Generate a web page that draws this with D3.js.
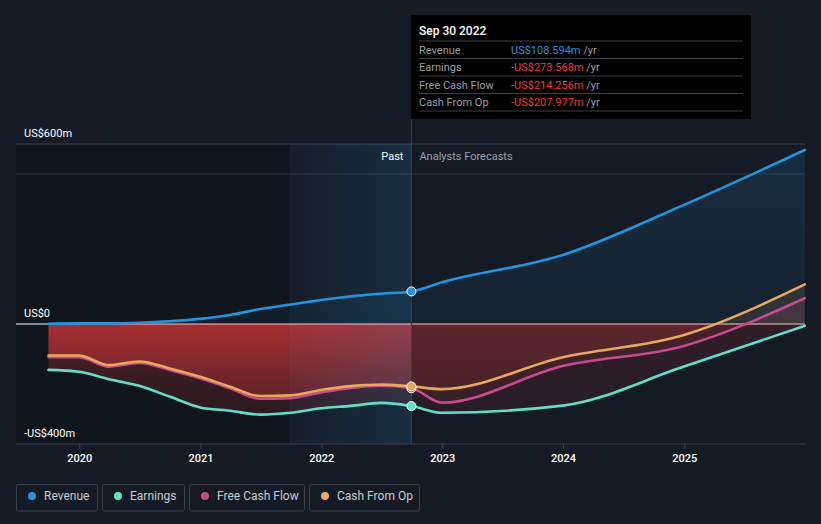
<!DOCTYPE html>
<html>
<head>
<meta charset="utf-8">
<script src="https://cdn.jsdelivr.net/npm/d3@7"></script>
<style>
  html, body { margin: 0; padding: 0; background: #151b24; }
  svg { display: block; font-family: Roboto, "Noto Sans", sans-serif; }
</style>
</head>
<body>
<svg id="chart" width="821" height="524"></svg>
<script>
// ---------- data ----------
const pastDates = ["2019-09-30","2019-12-31","2020-03-31","2020-06-30","2020-09-30","2020-12-31",
  "2021-03-31","2021-06-30","2021-09-30","2021-12-31","2022-03-31","2022-06-30","2022-09-30"];
const forecastDates = ["2022-09-30","2022-12-31","2023-12-31","2024-12-31","2025-12-31"];

const revenuePast   = [1, 2, 2, 4, 9, 17, 30, 50, 65, 80, 92, 101, 108.594];
const earningsPast  = [-153, -159, -184, -206, -242, -278, -289, -302, -296, -281, -273, -263, -273.568];
const fcfPast       = [-111, -111, -142, -130, -153, -181, -214, -249, -247, -228, -213, -206, -214.256];
const cfoPast       = [-105, -105, -137, -125, -148, -176, -209, -240, -238, -220, -207, -202, -207.977];

const revenueFc  = [108.594, 139, 230, 397, 580];
const earningsFc = [-273.568, -296, -272, -142, -6];
const fcfFc      = [-214.256, -262, -140, -73, 86];
const cfoFc      = [-207.977, -217, -111, -37, 132];

const seriesNames  = ["Revenue", "Earnings", "Free Cash Flow", "Cash From Op"];
const seriesColors = ["#2394df", "#5fe0c9", "#c74b8d", "#e8a95a"];
const tooltipDate   = "Sep 30 2022";
const tooltipValues = ["US$108.594m", "-US$273.568m", "-US$214.256m", "-US$207.977m"];
const yTicks      = [600, 0, -400];
const yTickLabels = ["US$600m", "US$0", "-US$400m"];
const xTickYears  = [2020, 2021, 2022, 2023, 2024, 2025];
const todayDate   = "2022-09-30";
const bandStart   = "2021-09-30";

// ---------- setup ----------
const parse = d3.timeParse("%Y-%m-%d");
const svg = d3.select("#chart");
const W = 821, H = 524;
const pL = 16, pR = 805, pT = 144, pB = 444;

const x = d3.scaleTime()
  .domain([parse("2019-09-30"), parse("2025-12-31")])
  .range([48.5, 804.8]);
const y = d3.scaleLinear().domain([-400, 600]).range([pB, pT]);

function mk(dates, vals) { return dates.map((d, i) => ({ date: parse(d), v: vals[i] })); }
const series = [
  { name: seriesNames[0], color: seriesColors[0], data: mk(pastDates, revenuePast).concat(mk(forecastDates, revenueFc).slice(1)) },
  { name: seriesNames[1], color: seriesColors[1], data: mk(pastDates, earningsPast).concat(mk(forecastDates, earningsFc).slice(1)) },
  { name: seriesNames[2], color: seriesColors[2], data: mk(pastDates, fcfPast).concat(mk(forecastDates, fcfFc).slice(1)) },
  { name: seriesNames[3], color: seriesColors[3], data: mk(pastDates, cfoPast).concat(mk(forecastDates, cfoFc).slice(1)) },
];

const xToday = x(parse(todayDate));
const xBand = x(parse(bandStart));
const y0 = y(0);

const defs = svg.append("defs");
defs.append("clipPath").attr("id", "clipPastNeg").append("rect")
  .attr("x", 0).attr("y", y0).attr("width", xToday).attr("height", H);
defs.append("clipPath").attr("id", "clipFutNeg").append("rect")
  .attr("x", xToday).attr("y", y0).attr("width", W).attr("height", H);
defs.append("clipPath").attr("id", "clipPos").append("rect")
  .attr("x", 0).attr("y", 0).attr("width", W).attr("height", y0);

function vGrad(id, stops) {
  const g = defs.append("linearGradient").attr("id", id)
    .attr("gradientUnits", "userSpaceOnUse")
    .attr("x1", 0).attr("x2", 0).attr("y1", y(0)).attr("y2", y(-400));
  stops.forEach(s => g.append("stop").attr("offset", s[0]).attr("stop-color", s[1]).attr("stop-opacity", s[2]));
}
vGrad("redPast", [[0, "#e5393b", 0.33], [0.45, "#e5393b", 0.18], [1, "#e5393b", 0.08]]);
vGrad("redFut", [[0, "#e5393b", 0.13], [1, "#e5393b", 0.06]]);
const revG = defs.append("linearGradient").attr("id", "revGrad")
  .attr("gradientUnits", "userSpaceOnUse").attr("x1", 0).attr("x2", 0).attr("y1", y(600)).attr("y2", y(0));
revG.append("stop").attr("offset", 0).attr("stop-color", "#2394df").attr("stop-opacity", 0.16);
revG.append("stop").attr("offset", 1).attr("stop-color", "#2394df").attr("stop-opacity", 0.06);
const bandG = defs.append("linearGradient").attr("id", "bandGrad")
  .attr("x1", 0).attr("x2", 1).attr("y1", 0).attr("y2", 0);
bandG.append("stop").attr("offset", 0).attr("stop-color", "#2394df").attr("stop-opacity", 0.02);
bandG.append("stop").attr("offset", 1).attr("stop-color", "#2394df").attr("stop-opacity", 0.16);

// ---------- background ----------
svg.append("rect").attr("width", W).attr("height", H).attr("fill", "#151b24");
svg.append("rect").attr("x", pL).attr("y", pT).attr("width", xBand - pL).attr("height", pB - pT)
  .attr("fill", "#000").attr("fill-opacity", 0.18);

svg.append("line").attr("x1", pL).attr("x2", pR).attr("y1", pT).attr("y2", pT)
  .attr("stroke", "#3a414c").attr("stroke-width", 1);
svg.append("line").attr("x1", pL).attr("x2", pR).attr("y1", 174).attr("y2", 174)
  .attr("stroke", "#2e3540").attr("stroke-width", 1);

// ---------- areas ----------
const area = d3.area().x(d => x(d.date)).y0(y0).y1(d => y(d.v)).curve(d3.curveMonotoneX);
const line = d3.line().x(d => x(d.date)).y(d => y(d.v)).curve(d3.curveMonotoneX);

svg.append("path").datum(series[0].data).attr("d", area).attr("fill", "url(#revGrad)");

[1, 2, 3].forEach(i => {
  const s = series[i];
  svg.append("path").datum(s.data).attr("d", area).attr("fill", "url(#redPast)").attr("clip-path", "url(#clipPastNeg)");
  svg.append("path").datum(s.data).attr("d", area).attr("fill", "url(#redFut)").attr("clip-path", "url(#clipFutNeg)");
  svg.append("path").datum(s.data).attr("d", area).attr("fill", s.color).attr("fill-opacity", 0.12).attr("clip-path", "url(#clipPos)");
});

svg.append("rect").attr("x", xBand).attr("y", pT).attr("width", xToday - xBand).attr("height", pB - pT)
  .attr("fill", "url(#bandGrad)");
svg.append("line").attr("x1", xBand).attr("x2", xBand).attr("y1", pT).attr("y2", pB)
  .attr("stroke", "#2394df").attr("stroke-opacity", 0.12);

svg.append("line").attr("x1", pL).attr("x2", x.range()[0]).attr("y1", y0).attr("y2", y0)
  .attr("stroke", "#ffffff").attr("stroke-width", 1.2);
svg.append("line").attr("x1", x.range()[0]).attr("x2", pR).attr("y1", y0).attr("y2", y0)
  .attr("stroke", "#f6c9c6").attr("stroke-width", 1.2);

svg.append("line").attr("x1", xToday).attr("x2", xToday).attr("y1", 119).attr("y2", pB)
  .attr("stroke", "#2d4257").attr("stroke-width", 1);

// ---------- lines ----------
[1, 2, 3, 0].forEach(i => {
  const s = series[i];
  svg.append("path").datum(s.data).attr("d", line)
    .attr("fill", "none").attr("stroke", s.color).attr("stroke-width", 2.6)
    .attr("stroke-linejoin", "round").attr("stroke-linecap", "round");
});

[2, 1, 3, 0].forEach(i => {
  const s = series[i];
  const pt = s.data.find(d => +d.date === +parse(todayDate));
  svg.append("circle").attr("cx", x(pt.date)).attr("cy", y(pt.v)).attr("r", 4.5)
    .attr("fill", s.color).attr("stroke", "#ffffff").attr("stroke-width", 1);
});

// ---------- axes ----------
svg.append("line").attr("x1", pL).attr("x2", pR).attr("y1", pB).attr("y2", pB)
  .attr("stroke", "#3a414c").attr("stroke-width", 1);
const xAxis = d3.axisBottom(x)
  .tickValues(xTickYears.map(yr => new Date(yr, 0, 1)))
  .tickFormat(d3.timeFormat("%Y"))
  .tickSize(5).tickPadding(5);
const gx = svg.append("g").attr("transform", `translate(0,${pB})`).call(xAxis);
gx.select(".domain").remove();
gx.selectAll(".tick line").attr("stroke", "#3a414c");
gx.selectAll(".tick text").attr("fill", "#ffffff").attr("font-size", 11).attr("font-weight", 500)
  .attr("font-family", "Roboto, sans-serif");

yTicks.forEach((t, i) => {
  svg.append("text").attr("x", 24).attr("y", y(t) - 7)
    .attr("fill", "#ffffff").attr("font-size", 11).attr("font-weight", 400)
    .text(yTickLabels[i]);
});

svg.append("text").attr("x", xToday - 8).attr("y", 160).attr("text-anchor", "end")
  .attr("fill", "#ffffff").attr("font-size", 11).text("Past");
svg.append("text").attr("x", xToday + 8).attr("y", 160)
  .attr("fill", "#9aa0a8").attr("font-size", 11).text("Analysts Forecasts");

// ---------- tooltip ----------
const tt = svg.append("g");
tt.append("rect").attr("x", 411).attr("y", 15).attr("width", 340).attr("height", 104).attr("fill", "#000000");
tt.append("text").attr("x", 419).attr("y", 35).attr("fill", "#ffffff").attr("font-size", 12).attr("font-weight", 500)
  .text(tooltipDate);
[41, 58.5, 76, 93.5, 111].forEach(sy => tt.append("line").attr("x1", 419).attr("x2", 743).attr("y1", sy).attr("y2", sy)
  .attr("stroke", "#3c3f44").attr("stroke-width", 1));
seriesNames.forEach((n, i) => {
  const by = 53.5 + i * 17.5;
  tt.append("text").attr("x", 419).attr("y", by).attr("fill", "#9a9da3").attr("font-size", 11).text(n);
  const t = tt.append("text").attr("x", 511).attr("y", by).attr("font-size", 11);
  t.append("tspan").attr("fill", i === 0 ? "#2394df" : "#f03a3a").text(tooltipValues[i]);
  t.append("tspan").attr("fill", "#9a9da3").text(" /yr");
});

// ---------- legend ----------
const legendBoxes = [[16, 81], [102, 82], [189, 115], [309, 110]];
seriesNames.forEach((n, i) => {
  const [bx, bw] = legendBoxes[i];
  const g = svg.append("g");
  g.append("rect").attr("x", bx + 0.5).attr("y", 484.5).attr("width", bw).attr("height", 26.5)
    .attr("rx", 2).attr("fill", "none").attr("stroke", "#3a404a");
  g.append("circle").attr("cx", bx + 16).attr("cy", 496).attr("r", 4).attr("fill", seriesColors[i]);
  g.append("text").attr("x", bx + 28).attr("y", 500).attr("fill", "#c8ccd2").attr("font-size", 12).text(n);
});
</script>
</body>
</html>
